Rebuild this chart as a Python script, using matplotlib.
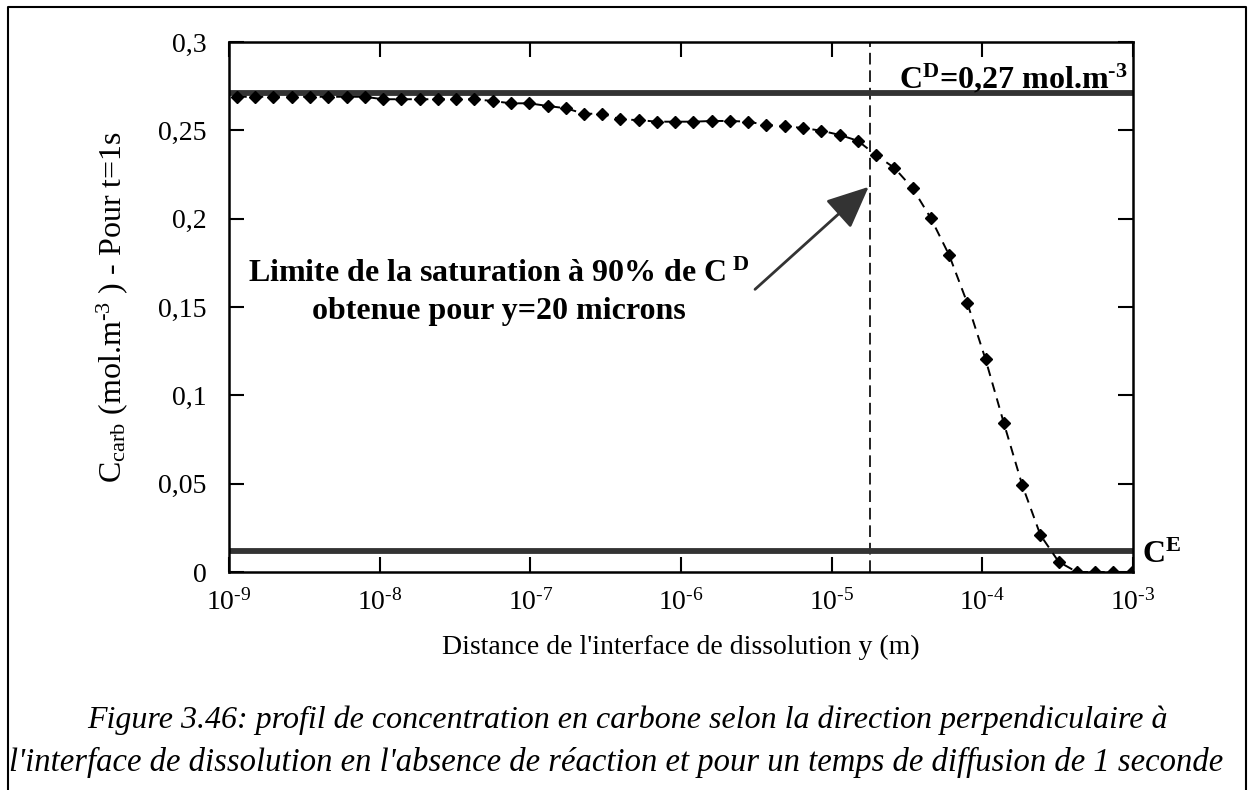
import matplotlib
matplotlib.use("Agg")
import matplotlib.pyplot as plt
from matplotlib.lines import Line2D
from matplotlib.ticker import NullLocator

plt.rcParams["font.family"] = ["Liberation Serif", "DejaVu Serif"]
plt.rcParams["mathtext.fontset"] = "custom"
plt.rcParams["mathtext.rm"] = "Liberation Serif"
plt.rcParams["mathtext.it"] = "Liberation Serif:italic"
plt.rcParams["mathtext.bf"] = "Liberation Serif:bold"
plt.rcParams["mathtext.default"] = "regular"

# distance from the dissolution interface (m)
distance = [
    1.13e-9, 1.49e-9, 1.97e-9, 2.61e-9, 3.45e-9, 4.56e-9, 6.03e-9, 7.97e-9,
    1.05e-8, 1.39e-8, 1.84e-8, 2.43e-8, 3.22e-8, 4.25e-8, 5.62e-8, 7.43e-8,
    9.82e-8, 1.30e-7, 1.72e-7, 2.27e-7, 3.00e-7, 3.96e-7, 5.24e-7, 6.92e-7,
    9.15e-7, 1.21e-6, 1.60e-6, 2.11e-6, 2.80e-6, 3.69e-6, 4.88e-6, 6.45e-6,
    8.53e-6, 1.13e-5, 1.49e-5, 1.97e-5, 2.61e-5, 3.44e-5, 4.55e-5, 6.02e-5,
    7.96e-5, 1.05e-4, 1.39e-4, 1.84e-4, 2.43e-4, 3.21e-4, 4.24e-4, 5.61e-4,
    7.42e-4, 9.80e-4,
]
# carbon concentration at t = 1 s (mol.m-3)
concentration = [
    0.269, 0.269, 0.269, 0.269, 0.269, 0.269, 0.269, 0.269,
    0.2676, 0.2676, 0.2676, 0.2676, 0.2676, 0.2676, 0.2666, 0.2653,
    0.2653, 0.2638, 0.2625, 0.2594, 0.2594, 0.2562, 0.2558, 0.2549,
    0.2549, 0.2549, 0.2553, 0.2553, 0.2549, 0.2530, 0.2524, 0.2513,
    0.2498, 0.2474, 0.2441, 0.2360, 0.2287, 0.2173, 0.2003, 0.1794,
    0.1521, 0.1204, 0.0842, 0.0492, 0.0209, 0.0058, 0.0, 0.0,
    0.0, 0.0,
]

c_sat = 0.2712     # C^D
c_eq = 0.0119      # C^E
y_limit = 1.8e-5   # 90 % saturation limit

HY = "\u2010"  # plain hyphen used in the exponents
xticks = [1e-9, 1e-8, 1e-7, 1e-6, 1e-5, 1e-4, 1e-3]
xtick_labels = ["10$^{%s9}$" % HY, "10$^{%s8}$" % HY, "10$^{%s7}$" % HY,
                "10$^{%s6}$" % HY, "10$^{%s5}$" % HY, "10$^{%s4}$" % HY,
                "10$^{%s3}$" % HY]
yticks = [0, 0.05, 0.1, 0.15, 0.2, 0.25, 0.3]
ytick_labels = ["0", "0,05", "0,1", "0,15", "0,2", "0,25", "0,3"]

fig = plt.figure(figsize=(12.54, 7.9), dpi=100)
ax = fig.add_axes([229 / 1254, 1 - 572 / 790, 904 / 1254, 530 / 790])

ax.axhline(c_sat, color="#333333", lw=4.2, zorder=2)
ax.axhline(c_eq, color="#333333", lw=4.2, zorder=2)
ax.axvline(y_limit, color="#222222", lw=1.4, dashes=(6, 3), zorder=1)
ax.plot(distance, concentration, color="black", lw=1.4, dashes=(5, 3.5),
        marker="D", ms=6.5, mfc="black", mec="black", zorder=3)

ax.set_xscale("log")
ax.set_xlim(1e-9, 1e-3)
ax.set_ylim(0, 0.3)
ax.set_xticks(xticks)
ax.set_xticklabels(xtick_labels)
ax.xaxis.set_minor_locator(NullLocator())
ax.set_yticks(yticks)
ax.set_yticklabels(ytick_labels)
ax.tick_params(direction="in", top=True, right=True, length=11, width=1.5,
               labelsize=20)
ax.tick_params(axis="y", pad=16)
ax.tick_params(axis="x", pad=12)
for spine in ax.spines.values():
    spine.set_linewidth(1.8)

ax.set_xlabel("Distance de l'interface de dissolution y (m)", fontsize=20,
              labelpad=14)
ax.set_ylabel(r"C$_{\mathrm{carb}}$ (mol.m$^{%s3}$ ) - Pour t=1s" % HY,
              fontsize=23, labelpad=20)

ax.text(2.8e-5, 0.274, r"C$^{\mathbf{D}}$=0,27 mol.m$^{\mathbf{%s3}}$" % HY,
        fontsize=23, fontweight="bold", ha="left", va="baseline")
ax.text(1.01, 0.005, r"C$^{\mathbf{E}}$", transform=ax.get_yaxis_transform(),
        fontsize=23, fontweight="bold", ha="left", va="baseline")
ax.text(6.2e-8, 0.158,
        "Limite de la saturation à 90% de C$^{\\mathbf{\\ D}}$\n"
        "obtenue pour y=20 microns",
        fontsize=23, fontweight="bold", ha="center", va="center",
        multialignment="center", linespacing=1.35)
ax.annotate("", xy=(1.76e-5, 0.218), xytext=(3.1e-6, 0.16),
            arrowprops=dict(arrowstyle="-|>,head_length=1.0,head_width=0.45",
                            mutation_scale=26, lw=2, color="#333333",
                            shrinkA=0, shrinkB=0))

fig.text(0.5, 1 - 720 / 790,
         "Figure 3.46: profil de concentration en carbone selon la direction "
         "perpendiculaire à",
         fontsize=23, style="italic", ha="center", va="center")
fig.text(616 / 1254, 1 - 762 / 790,
         "l'interface de dissolution en l'absence de réaction et pour un "
         "temps de diffusion de 1 seconde",
         fontsize=23.5, style="italic", ha="center", va="center")

# page frame around the figure
fig.add_artist(Line2D([8 / 1254, 8 / 1254, 1246 / 1254, 1246 / 1254],
                      [0, 1 - 7 / 790, 1 - 7 / 790, 0],
                      transform=fig.transFigure, color="black", lw=1.5))

fig.savefig("out.png", dpi=100)
